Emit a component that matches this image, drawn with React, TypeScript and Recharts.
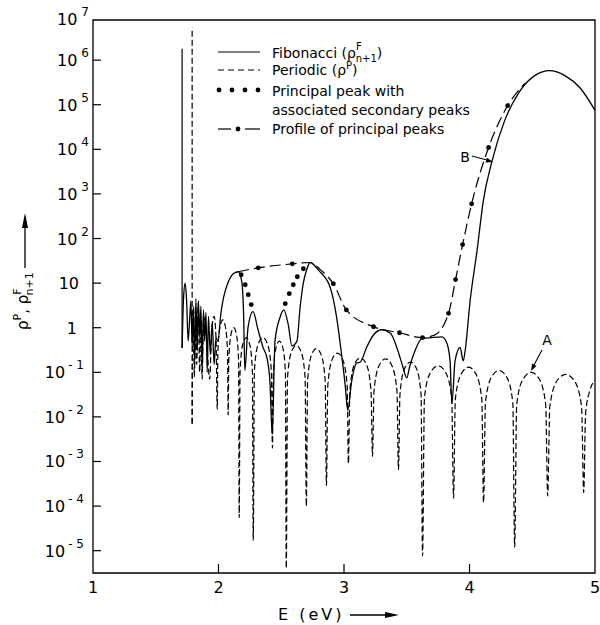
import React from 'react'
import { LineChart, Line, XAxis, YAxis, ReferenceArea } from 'recharts'

const W = 600
const H = 625
const MARGIN = { top: 20, right: 5, bottom: 51, left: 92 }
const PLOT_LEFT = 93
const PLOT_BOTTOM = 573
const Y_MIN = 3.16e-6 // ~10^-5.5
const Y_MAX = 7.94e6 // ~10^6.9

const E_TICKS = [1, 2, 3, 4, 5]
const RHO_TICKS = [1e-5, 1e-4, 1e-3, 1e-2, 1e-1, 1, 10, 100, 1e3, 1e4, 1e5, 1e6]

// [E (eV), rho]
const FIB_SPIKE = [[1.71, 0.35], [1.71, 1.8e6]]
const PER_SPIKE = [[1.79, 0.007], [1.79, 5.4e6]]

const FIBONACCI = [
  [1.71, 0.35], [1.722, 5], [1.734, 10], [1.746, 4], [1.758, 0.5], [1.77, 1.5], [1.78, 4],
  [1.79, 0.4], [1.8, 3], [1.81, 0.15], [1.82, 4.5], [1.83, 0.3], [1.84, 4], [1.85, 0.6],
  [1.86, 3], [1.87, 0.12], [1.88, 2.5], [1.89, 0.5], [1.9, 2.2], [1.91, 0.1], [1.92, 1.8],
  [1.935, 0.25], [1.95, 1.3], [1.965, 0.15], [1.98, 0.6], [1.995, 0.5], [2.02, 2.2],
  [2.04, 4.7], [2.08, 11], [2.12, 16.5], [2.157, 18], [2.185, 11], [2.2, 2], [2.21, 0.11],
  [2.235, 1], [2.275, 2.3], [2.315, 0.9], [2.355, 0.36], [2.386, 0.21], [2.41, 0.06],
  [2.428, 0.004], [2.45, 0.5], [2.49, 1.7], [2.52, 2.5], [2.555, 1.2], [2.585, 0.39],
  [2.625, 0.5], [2.65, 2.8], [2.675, 9.7], [2.705, 21], [2.73, 29], [2.8, 19], [2.89, 8],
  [2.94, 1.8], [2.98, 0.26], [3.01, 0.05], [3.03, 0.014], [3.06, 0.06], [3.1, 0.16],
  [3.13, 0.17], [3.18, 0.36], [3.23, 0.66], [3.3, 0.9], [3.37, 0.75], [3.43, 0.3],
  [3.47, 0.13], [3.5, 0.075], [3.525, 0.14], [3.565, 0.3], [3.62, 0.57], [3.7, 0.6],
  [3.78, 0.62], [3.82, 0.45], [3.845, 0.18], [3.86, 0.02], [3.885, 0.18], [3.925, 0.36],
  [3.95, 0.18], [3.965, 0.3], [4.005, 4], [4.06, 53], [4.11, 700], [4.18, 5500],
  [4.28, 44000], [4.4, 200000], [4.52, 450000], [4.64, 580000], [4.76, 450000],
  [4.88, 240000], [5.0, 75000],
]

const PERIODIC = [
  [1.79, 0.007], [1.797, 2.5], [1.808, 0.08], [1.816, 3], [1.826, 0.15], [1.838, 3.5],
  [1.85, 0.1], [1.858, 1.5], [1.87, 0.07], [1.88, 1.8], [1.9, 0.9], [1.93, 0.07],
  [1.945, 0.8], [1.965, 1.8], [1.98, 0.6], [1.99, 0.015],
  [1.995, 0.29], [2.012, 1.05], [2.034, 1.5], [2.055, 1.05], [2.072, 0.29], [2.077, 0.011],
  [2.082, 0.19], [2.099, 0.7], [2.121, 1.0], [2.143, 0.7], [2.16, 0.19], [2.165, 5.5e-5],
  [2.172, 0.11], [2.193, 0.42], [2.221, 0.6], [2.249, 0.42], [2.27, 0.11], [2.277, 1.7e-5],
  [2.286, 0.11], [2.315, 0.42], [2.354, 0.6], [2.392, 0.42], [2.421, 0.11], [2.43, 0.002],
  [2.437, 0.1], [2.458, 0.35], [2.485, 0.5], [2.513, 0.35], [2.533, 0.1], [2.54, 4e-6],
  [2.55, 0.076], [2.58, 0.28], [2.62, 0.4], [2.66, 0.28], [2.69, 0.076], [2.7, 1e-4],
  [2.71, 0.065], [2.74, 0.24], [2.78, 0.34], [2.82, 0.24], [2.85, 0.065], [2.86, 2.9e-4],
  [2.871, 0.051], [2.904, 0.19], [2.948, 0.27], [2.991, 0.19], [3.025, 0.051], [3.035, 9e-4],
  [3.047, 0.04], [3.083, 0.15], [3.131, 0.21], [3.179, 0.15], [3.215, 0.04], [3.227, 1.3e-3],
  [3.239, 0.038], [3.279, 0.14], [3.331, 0.2], [3.382, 0.14], [3.422, 0.038], [3.434, 6.6e-4],
  [3.446, 0.032], [3.482, 0.12], [3.53, 0.17], [3.578, 0.12], [3.614, 0.032], [3.626, 7.7e-6],
  [3.641, 0.027], [3.688, 0.098], [3.75, 0.14], [3.811, 0.098], [3.858, 0.027], [3.873, 1.5e-4],
  [3.887, 0.025], [3.933, 0.091], [3.993, 0.13], [4.052, 0.091], [4.098, 0.025], [4.112, 1.2e-4],
  [4.127, 0.021], [4.174, 0.077], [4.236, 0.11], [4.298, 0.077], [4.345, 0.021], [4.36, 1.2e-5],
  [4.376, 0.019], [4.426, 0.07], [4.492, 0.1], [4.557, 0.07], [4.607, 0.019], [4.623, 1.7e-4],
  [4.64, 0.017], [4.695, 0.063], [4.767, 0.09], [4.838, 0.063], [4.893, 0.017], [4.91, 2e-4],
  [4.925, 0.012], [4.96, 0.04], [5.0, 0.065],
]

const PROFILE = [
  [2.157, 18], [2.317, 22], [2.588, 27], [2.73, 29], [2.82, 19], [2.915, 9.7], [3.019, 2.5],
  [3.235, 1.05], [3.442, 0.77], [3.626, 0.6], [3.72, 0.68], [3.833, 2.1], [3.889, 12],
  [3.945, 73], [4.017, 600], [4.152, 1.1e4], [4.304, 9.5e4], [4.44, 3e5],
]

const PROFILE_DOTS = [
  [2.317, 22], [2.588, 27], [2.915, 9.7], [3.019, 2.5], [3.235, 1.05], [3.442, 0.77],
  [3.626, 0.6], [3.833, 2.1], [3.889, 12], [3.945, 73], [4.017, 600], [4.152, 1.1e4], [4.304, 9.5e4],
]

const PRINCIPAL_DOTS = [
  [2.181, 15.4], [2.213, 9.2], [2.237, 5.5], [2.261, 3.3],
  [2.532, 3.45], [2.564, 5.8], [2.596, 9.2], [2.628, 13.9], [2.676, 21],
]

const toPts = (arr: number[][]) => arr.map(([e, v]) => ({ e, v }))

function TenLabel({ y, p }: { y: number; p: number }) {
  if (p === 0) return <text x={77} y={y + 6} textAnchor="end" fontSize={16}>1</text>
  if (p === 1) return <text x={79} y={y + 6} textAnchor="end" fontSize={16}>10</text>
  return (
    <text x={p < 0 ? 84 : 89} y={y + 6} textAnchor="end" fontSize={16}>
      10<tspan dx={p < 0 ? 3 : 4} dy={-9} fontSize={12}>{p < 0 ? `- ${-p}` : p}</tspan>
    </text>
  )
}

function YTick(props: any) {
  const { y, payload } = props
  const p = Math.round(Math.log10(payload.value))
  return (
    <g>
      <line x1={PLOT_LEFT} x2={PLOT_LEFT + 8} y1={y} y2={y} stroke="#000" strokeWidth={1.2} />
      <TenLabel y={y} p={p} />
    </g>
  )
}

function XTick(props: any) {
  const { x, payload } = props
  const v = payload.value
  return (
    <g>
      {v > 1 && v < 5 && <line x1={x} x2={x} y1={PLOT_BOTTOM} y2={PLOT_BOTTOM - 9} stroke="#000" strokeWidth={1.2} />}
      <text x={x} y={PLOT_BOTTOM + 20} textAnchor="middle" fontSize={16}>{v}</text>
    </g>
  )
}

function Overlay() {
  return (
    <svg width={W} height={H} style={{ position: 'absolute', left: 0, top: 0, pointerEvents: 'none' }}>
      <TenLabel y={19} p={7} />

      {/* y title */}
      <line x1={25} x2={25} y1={268} y2={226} stroke="#000" strokeWidth={1.3} />
      <polygon points="25,213 22,228 28,228" fill="#000" />
      <text transform="rotate(-90 28 330)" x={28} y={330} fontSize={15}>
        ρ<tspan dy={-7} fontSize={11}>P</tspan>
        <tspan dy={7}>, ρ</tspan>
        <tspan dy={-7} fontSize={11}>F</tspan>
        <tspan dx={-7} dy={12} fontSize={11}>n+1</tspan>
      </text>

      {/* x title */}
      <text x={278} y={620} fontSize={16} letterSpacing={3}>E (eV)</text>
      <line x1={350} x2={388} y1={615} y2={615} stroke="#000" strokeWidth={1.3} />
      <polygon points="399,615 385,612 385,618" fill="#000" />

      {/* legend */}
      <g fontSize={14}>
        <line x1={218} x2={260} y1={52} y2={52} stroke="#000" strokeWidth={1.2} />
        <text x={272} y={58}>
          Fibonacci (ρ<tspan dy={-8} fontSize={10}>F</tspan>
          <tspan dx={-6} dy={12} fontSize={10}>n+1</tspan>
          <tspan dy={-4}>)</tspan>
        </text>
        <line x1={218} x2={260} y1={70} y2={70} stroke="#000" strokeWidth={1.2} strokeDasharray="6 4" />
        <text x={272} y={75}>
          Periodic (ρ<tspan dy={-6} fontSize={10}>P</tspan>
          <tspan dy={6}>)</tspan>
        </text>
        {[219, 232, 245, 258].map((cx) => (
          <circle key={cx} cx={cx} cy={90} r={2.4} fill="#000" />
        ))}
        <text x={272} y={96}>Principal peak with</text>
        <text x={272} y={115}>associated secondary peaks</text>
        <line x1={218} x2={231} y1={129} y2={129} stroke="#000" strokeWidth={1.2} />
        <circle cx={238} cy={129} r={2.4} fill="#000" />
        <line x1={245} x2={260} y1={129} y2={129} stroke="#000" strokeWidth={1.2} />
        <text x={272} y={134}>Profile of principal peaks</text>
      </g>

      {/* annotations */}
      <text x={547} y={345} fontSize={14} textAnchor="middle">A</text>
      <line x1={542} y1={350} x2={534} y2={365} stroke="#000" strokeWidth={1.1} />
      <polygon points="531,371 536.5,366 532.1,363.6" fill="#000" />
      <text x={465} y={162} fontSize={14} textAnchor="middle">B</text>
      <line x1={472} y1={156} x2={487} y2={160} stroke="#000" strokeWidth={1.1} />
      <polygon points="493,162 485.6,162.5 487,157.7" fill="#000" />
    </svg>
  )
}

export default function App() {
  return (
    <div style={{ position: 'relative', width: W, height: H, fontFamily: '"DejaVu Sans", sans-serif', background: '#fff' }}>
      <style>{'body{margin:0}'}</style>
      <LineChart width={W} height={H} margin={MARGIN}>
        <XAxis
          type="number"
          dataKey="e"
          domain={[1, 5]}
          ticks={E_TICKS}
          allowDataOverflow
          height={1}
          tickSize={0}
          tickMargin={0}
          tickLine={false}
          axisLine={false}
          tick={<XTick />}
        />
        <YAxis
          type="number"
          dataKey="v"
          scale="log"
          domain={[Y_MIN, Y_MAX]}
          ticks={RHO_TICKS}
          allowDataOverflow
          width={1}
          tickSize={0}
          tickMargin={0}
          tickLine={false}
          axisLine={false}
          tick={<YTick />}
        />
        <ReferenceArea x1={1} x2={5} y1={Y_MIN} y2={Y_MAX} fill="none" stroke="#000" strokeWidth={1.3} />
        <Line data={toPts(FIB_SPIKE)} dataKey="v" type="linear" stroke="#000" strokeWidth={1.2} dot={false} activeDot={false} isAnimationActive={false} />
        <Line data={toPts(PER_SPIKE)} dataKey="v" type="linear" stroke="#000" strokeWidth={1.2} strokeDasharray="6 3" dot={false} activeDot={false} isAnimationActive={false} />
        <Line data={toPts(PERIODIC)} dataKey="v" type="monotone" stroke="#000" strokeWidth={1.2} strokeDasharray="6 3" dot={false} activeDot={false} isAnimationActive={false} />
        <Line data={toPts(FIBONACCI)} dataKey="v" type="monotone" stroke="#000" strokeWidth={1.3} dot={false} activeDot={false} isAnimationActive={false} />
        <Line data={toPts(PROFILE)} dataKey="v" type="monotone" stroke="#000" strokeWidth={1.2} strokeDasharray="11 5" dot={false} activeDot={false} isAnimationActive={false} />
        <Line data={toPts(PROFILE_DOTS)} dataKey="v" type="linear" stroke="none" dot={{ r: 2.4, fill: '#000', stroke: 'none' }} activeDot={false} isAnimationActive={false} />
        <Line data={toPts(PRINCIPAL_DOTS)} dataKey="v" type="linear" stroke="none" dot={{ r: 2.4, fill: '#000', stroke: 'none' }} activeDot={false} isAnimationActive={false} />
      </LineChart>
      <Overlay />
    </div>
  )
}
